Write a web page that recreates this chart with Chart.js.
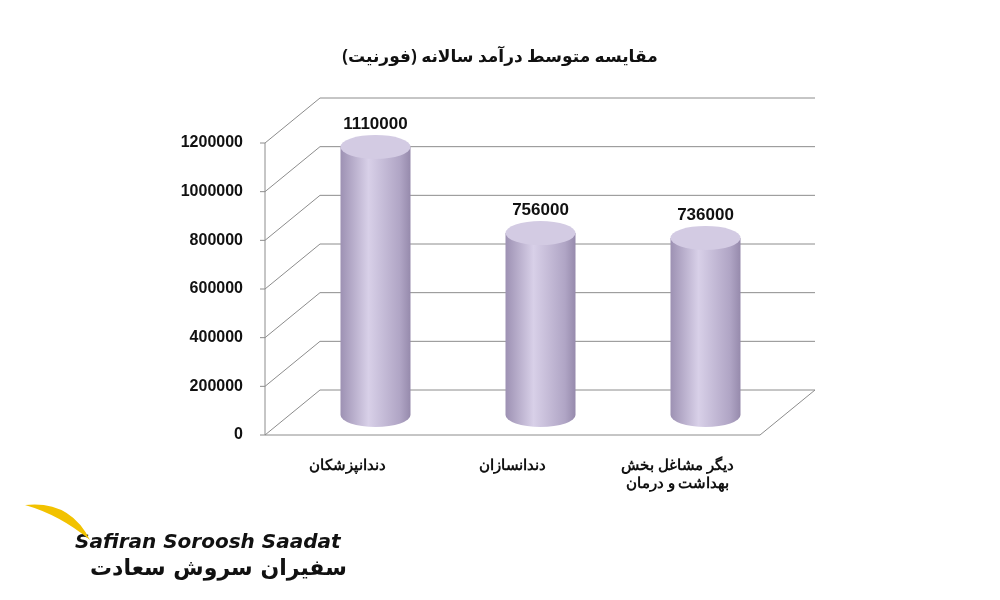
<!DOCTYPE html>
<html><head><meta charset="utf-8">
<script src="https://cdn.jsdelivr.net/npm/chart.js@4/dist/chart.umd.min.js"></script>
<style>body{margin:0;background:#fff}#wrap{width:1000px;height:600px;position:relative}</style>
</head><body><div id="wrap"><canvas id="c" width="1000" height="600"></canvas></div>
<script>
const categories = [['دندانپزشکان'], ['دندانسازان'], ['دیگر مشاغل بخش', 'بهداشت و درمان']];
const incomes = [1110000, 756000, 736000];
const yTicks = [0, 200000, 400000, 600000, 800000, 1000000, 1200000];
const titleText = 'مقایسه متوسط درآمد سالانه (فورنیت)';

const DX = 55, DY = -45;

const wallPlugin = {
    id: 'wall',
    beforeDatasetsDraw(chart) {
        const ctx = chart.ctx, a = chart.chartArea, y = chart.scales.y;
        ctx.save();
        ctx.strokeStyle = '#8c8c8c';
        ctx.lineWidth = 1;
        yTicks.forEach(v => {
            const py = y.getPixelForValue(v);
            ctx.beginPath();
            ctx.moveTo(a.left, py);
            ctx.lineTo(a.left + DX, py + DY);
            ctx.lineTo(a.right + DX, py + DY);
            ctx.stroke();
        });
        const b = y.getPixelForValue(0);
        ctx.beginPath();
        ctx.moveTo(a.left, b); ctx.lineTo(a.right, b); ctx.lineTo(a.right + DX, b + DY);
        ctx.stroke();
        ctx.beginPath();
        ctx.moveTo(a.left, a.top); ctx.lineTo(a.left, b);
        ctx.stroke();
        yTicks.forEach(v => {
            const py = y.getPixelForValue(v);
            ctx.beginPath(); ctx.moveTo(a.left - 5, py); ctx.lineTo(a.left, py); ctx.stroke();
        });
        ctx.restore();
    },
    afterDatasetsDraw(chart) {
        const ctx = chart.ctx, meta = chart.getDatasetMeta(0);
        ctx.save();
        meta.data.forEach((bar, i) => {
            const w = 70, cx = bar.x + 28, top = bar.y - 18, bot = bar.base - 20, ry = 12;
            const g = ctx.createLinearGradient(cx - w / 2, 0, cx + w / 2, 0);
            g.addColorStop(0, '#9d91b3');
            g.addColorStop(0.4, '#d8d0e8');
            g.addColorStop(0.85, '#b0a5c5');
            g.addColorStop(1, '#968aac');
            ctx.fillStyle = g;
            ctx.beginPath();
            ctx.moveTo(cx - w / 2, top);
            ctx.lineTo(cx - w / 2, bot);
            ctx.ellipse(cx, bot, w / 2, ry, 0, Math.PI, 0, true);
            ctx.lineTo(cx + w / 2, top);
            ctx.closePath();
            ctx.fill();
            ctx.fillStyle = '#d3cbe3';
            ctx.beginPath();
            ctx.ellipse(cx, top, w / 2, ry, 0, 0, Math.PI * 2);
            ctx.fill();
            ctx.fillStyle = '#111';
            ctx.font = 'bold 17px "Liberation Sans"';
            ctx.textAlign = 'center';
            ctx.fillText(String(incomes[i]), cx, top - 18);
        });
        ctx.restore();
    },
    afterDraw(chart) {
        const ctx = chart.ctx;
        ctx.save();
        ctx.fillStyle = '#111';
        ctx.font = 'bold 17px "Noto Sans", "DejaVu Sans"';
        ctx.textAlign = 'center';
        ctx.fillText(titleText, 500, 62);
        ctx.textAlign = 'left';
        ctx.font = 'bold italic 20px "DejaVu Sans"';
        ctx.fillText('Safiran Soroosh Saadat', 75, 548);
        ctx.font = 'bold 22px "DejaVu Sans"';
        ctx.fillText('سفیران سروش سعادت', 90, 575);
        ctx.fillStyle = '#f2c200';
        ctx.beginPath(); ctx.moveTo(25, 505); ctx.quadraticCurveTo(70, 500, 90, 540); ctx.quadraticCurveTo(60, 515, 25, 505); ctx.fill();
        ctx.restore();
    }
};

new Chart(document.getElementById('c'), {
    type: 'bar',
    data: { labels: categories, datasets: [{ data: incomes, backgroundColor: 'rgba(0,0,0,0)' }] },
    options: {
        responsive: false, animation: false,
        layout: { padding: { left: 160, right: 240, top: 143, bottom: 0 } },
        plugins: { legend: { display: false }, tooltip: { enabled: false } },
        scales: {
            y: {
                min: 0, max: 1200000,
                afterFit(s) { s.width = 105; },
                afterBuildTicks(s) { s.ticks = yTicks.map(v => ({ value: v })); },
                grid: { display: false }, border: { display: false },
                ticks: { color: '#111', font: { family: 'Liberation Sans', weight: 'bold', size: 16 }, padding: 14, callback: v => String(v) }
            },
            x: {
                afterFit(s) { s.height = 165; },
                grid: { display: false }, border: { display: false },
                ticks: { color: '#111', font: { family: 'Noto Sans', weight: 'bold', size: 15 }, padding: 14 }
            }
        }
    },
    plugins: [wallPlugin]
});
</script></body></html>
